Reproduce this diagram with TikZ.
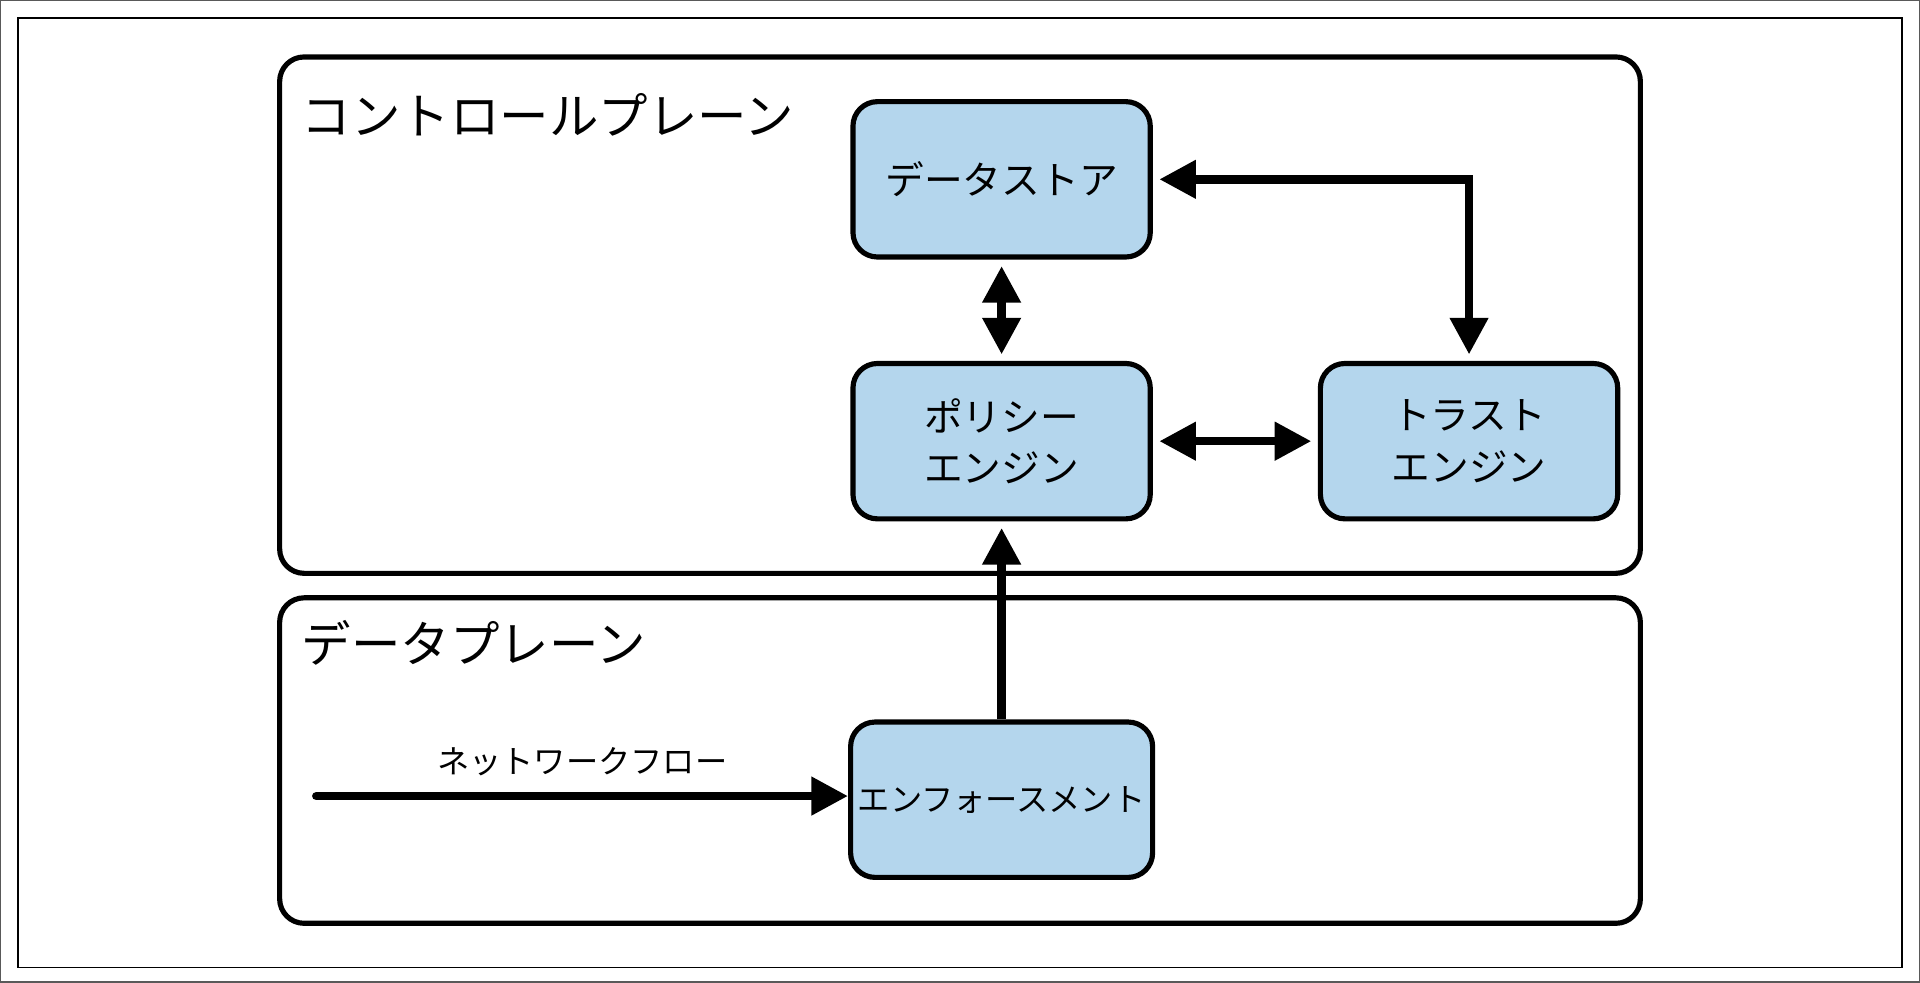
\documentclass[tikz,border=0pt]{standalone}
\usepackage{fontspec}
\setmainfont{Noto Sans CJK JP}
\usetikzlibrary{arrows.meta,positioning}
\definecolor{boxblue}{HTML}{B4D6ED}
\tikzset{
  plane/.style={draw,line width=2.4pt,rounded corners=0.4cm},
  comp/.style={draw,line width=2.4pt,rounded corners=0.4cm,fill=boxblue,
    minimum width=4.86cm,minimum height=2.54cm,align=center,font=\fontsize{18}{24}\selectfont},
  flow/.style={line width=4pt,-{Triangle[length=0.6cm,width=0.6cm]}},
  bflow/.style={line width=4pt,{Triangle[length=0.6cm,width=0.6cm]}-{Triangle[length=0.6cm,width=0.6cm]}},
  title/.style={anchor=west,font=\fontsize{23}{28}\selectfont}
}
\begin{document}
\begin{tikzpicture}[x=0.02cm,y=-0.02cm]
	\draw[gray!70!black,line width=0.6pt] (0,0) rectangle (1568,802);
	\draw[line width=0.8pt] (14,14) rectangle (1554,790);
	% planes
	\draw[plane] (228,46) rectangle (1340,468);
	\draw[plane] (228,488) rectangle (1340,754);
	\node[title] (cp) at (240,93) {コントロールプレーン};
	\node[title] (dp) at (240,525) {データプレーン};
	% components
	\node[comp] (store) at (818,146) {データストア};
	\node[comp] (policy) at (818,360) {ポリシー\\エンジン};
	\node[comp] (trust) at (1200,360) {トラスト\\エンジン};
	\node[comp,font=\fontsize{15}{20}\selectfont] (enf) at (818,653) {エンフォースメント};
	\coordinate (src) at (258,650);
	% connectors
	\draw[bflow,shorten <=3pt,shorten >=3pt] (store) -- (policy);
	\draw[bflow,shorten <=3pt,shorten >=3pt] (policy) -- (trust);
	\draw[bflow,shorten <=3pt,shorten >=3pt] (store.east) -| (trust.north);
	\draw[flow,shorten >=3pt] (enf) -- (policy);
	\draw[flow,line cap=round] (src) -- (src -| enf.west)
		node[midway,above=4pt,font=\fontsize{15}{20}\selectfont] (nf) {ネットワークフロー};
\end{tikzpicture}
\end{document}
